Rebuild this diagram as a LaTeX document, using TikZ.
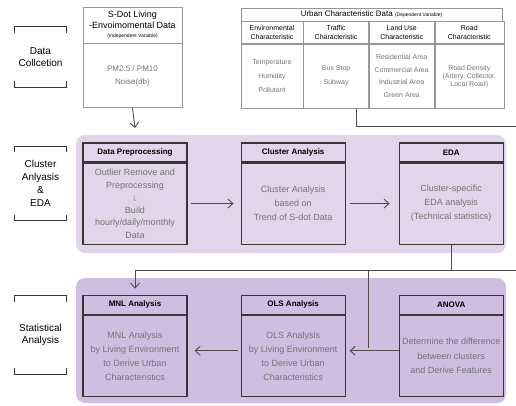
\documentclass[tikz,border=0pt]{standalone}
\usepackage{fontspec}
\setmainfont{Liberation Sans}
\usepackage{tikz}
\usetikzlibrary{positioning, arrows.meta}

\definecolor{lavlight}{RGB}{224,213,235}
\definecolor{lavdark}{RGB}{207,190,224}
\definecolor{txtgray}{RGB}{115,115,115}
\definecolor{boxline}{RGB}{55,55,55}
\definecolor{tabline}{RGB}{150,150,150}

\tikzset{
  hd/.style={draw=boxline, line width=1.1pt, minimum width=104pt, minimum height=19pt, inner sep=0pt, font=\bfseries\fontsize{8}{9}\selectfont},
  bd/.style={draw=boxline, line width=1.1pt, minimum width=104pt, minimum height=81pt, inner sep=0pt, align=center, text=txtgray, font=\fontsize{9}{14}\selectfont},
  th/.style={draw=tabline, line width=0.6pt, inner sep=0pt, align=center, font=\fontsize{7}{8.5}\selectfont},
  tb/.style={th, text=txtgray},
  lbl/.style={minimum width=51pt, inner sep=0pt, align=center, font=\fontsize{10}{12.7}\selectfont},
  brk/.style={draw=boxline, line width=0.8pt},
  conn/.style={draw=black!70, line width=0.9pt},
  connarr/.style={conn, -{Straight Barb[length=5pt,width=9pt]}},
}

\begin{document}
\begin{tikzpicture}[x=1pt, y=-1pt, node distance=0pt]
 			\useasboundingbox (0,0) rectangle (516,405);
 			% panels
 			\fill[lavlight, rounded corners=9pt] (76,135) rectangle (506,253);
 			\fill[lavdark, rounded corners=9pt] (76,278) rectangle (506,403);

 			% side labels
 			\node[lbl, minimum height=60pt] (ldat) at (40.5,57) {Data\\Collcetion};
 			\node[lbl, minimum height=74pt, below=59pt of ldat] (lclu) {Cluster\\Anlyasis\\\&\\EDA};
 			\node[lbl, minimum height=78pt, below=75pt of lclu] (lsta) {Statistical\\Analysis};
 			\foreach \l in {ldat,lclu,lsta}{
 				\draw[brk] ([yshift=-6pt]\l.north west) -- (\l.north west) -- (\l.north east) -- ([yshift=-6pt]\l.north east);
 				\draw[brk] ([yshift=6pt]\l.south west) -- (\l.south west) -- (\l.south east) -- ([yshift=6pt]\l.south east);
 			}

 			% S-dot data
 			\node[th, minimum width=99pt, minimum height=36pt, font=\fontsize{9}{11}\selectfont] (sdh) at (132.5,25) {S-Dot Living\\-Envoimomental Data\\[-2pt]{\fontsize{5}{6}\selectfont (Independent Variable)}};
 			\node[tb, minimum width=99pt, minimum height=64pt, below=of sdh, font=\fontsize{8}{13}\selectfont] (sdb) {PM2.5 / PM10\\Noise(db)};

 			% urban data table
 			\node[th, minimum width=261pt, minimum height=13pt, font=\fontsize{8}{9}\selectfont] (uhd) at (371.5,14.5) {Urban Characteristic Data {\fontsize{5}{6}\selectfont (Dependent Variable)}};
 			\node[th, minimum width=62pt, minimum height=22pt, below=of uhd.south west, anchor=north west] (envh) {Environmental\\Characteristic};
 			\node[th, minimum width=65pt, minimum height=22pt, right=of envh] (trah) {Traffic\\Characteristic};
 			\node[th, minimum width=65pt, minimum height=22pt, right=of trah] (lndh) {Land Use\\Characteristic};
 			\node[th, minimum width=69pt, minimum height=22pt, right=of lndh] (rdh) {Road\\Characteristic};
 			\node[tb, minimum width=62pt, minimum height=64pt, below=of envh, font=\fontsize{7}{14}\selectfont] (envb) {Temperature\\Humidity\\Pollutant};
 			\node[tb, minimum width=65pt, minimum height=64pt, below=of trah, font=\fontsize{7}{14}\selectfont] (trab) {Bus Stop\\Subway};
 			\node[tb, minimum width=65pt, minimum height=64pt, below=of lndh, font=\fontsize{7}{12.5}\selectfont] (lndb) {Residential Area\\Commercial Area\\Industrial Area\\Green Area};
 			\node[tb, minimum width=69pt, minimum height=64pt, below=of rdh, font=\fontsize{7}{8}\selectfont] (rdb) {Road Density\\(Artery, Collector,\\Local Road)};

 			% cluster analysis & EDA
 			\node[hd] (preh) at (135,152.5) {Data Preprocessing};
 			\node[bd, below=of preh, font=\fontsize{9}{12.5}\selectfont] (preb) {Outlier Remove and\\Preprocessing\\{\fontsize{7}{7}\selectfont$\downarrow$}\\Build\\hourly/daily/monthly\\Data};
 			\node[hd, right=53pt of preh] (clsh) {Cluster Analysis};
 			\node[bd, below=of clsh] (clsb) {Cluster Analysis\\based on\\Trend of S-dot Data};
 			\node[hd, right=53pt of clsh] (edah) {EDA};
 			\node[bd, below=of edah] (edab) {Cluster-specific\\EDA analysis\\(Technical statistics)};

 			% statistical analysis
 			\node[hd, below=50pt of preb] (mnlh) {MNL Analysis};
 			\node[bd, below=of mnlh] (mnlb) {MNL Analysis\\by Living Environment\\to Derive Urban\\Characteristics};
 			\node[hd, right=53pt of mnlh] (olsh) {OLS Analysis};
 			\node[bd, below=of olsh] (olsb) {OLS Analysis\\by Living Environment\\to Derive Urban\\Characteristics};
 			\node[hd, right=53pt of olsh] (anvh) {ANOVA};
 			\node[bd, below=of anvh, font=\fontsize{9}{14.5}\selectfont] (anvb) {Determine the difference\\between clusters\\and Derive Features};

 			\coordinate (mtop) at (135,128);
 			\coordinate (tabout) at (516,126);
 			\coordinate (linkin) at (516,270);
 			\coordinate (olsj) at (368,348);

 			\draw[connarr] (sdb.south) -- (mtop);
 			\draw[conn] ([xshift=20pt]trab.south) |- (tabout);
 			\draw[connarr, shorten <=3pt, shorten >=7pt] (preb.east) -- (clsb.west);
 			\draw[connarr, shorten <=4pt, shorten >=9pt] (clsb.east) -- (edab.west);
 			\draw[conn] (edab.south) -- (edab.south |- linkin);
 			\draw[connarr, shorten >=6pt] (linkin) -| (mnlh.north);
 			\draw[conn] (olsj |- linkin) -- (olsj);
 			\draw[connarr, shorten >=4pt] ([yshift=5pt]anvb.west) -- ([yshift=5pt]olsb.east);
 			\draw[connarr, shorten <=3pt, shorten >=7pt] ([yshift=5pt]olsb.west) -- ([yshift=5pt]mnlb.east);
 		\end{tikzpicture}
\end{document}
